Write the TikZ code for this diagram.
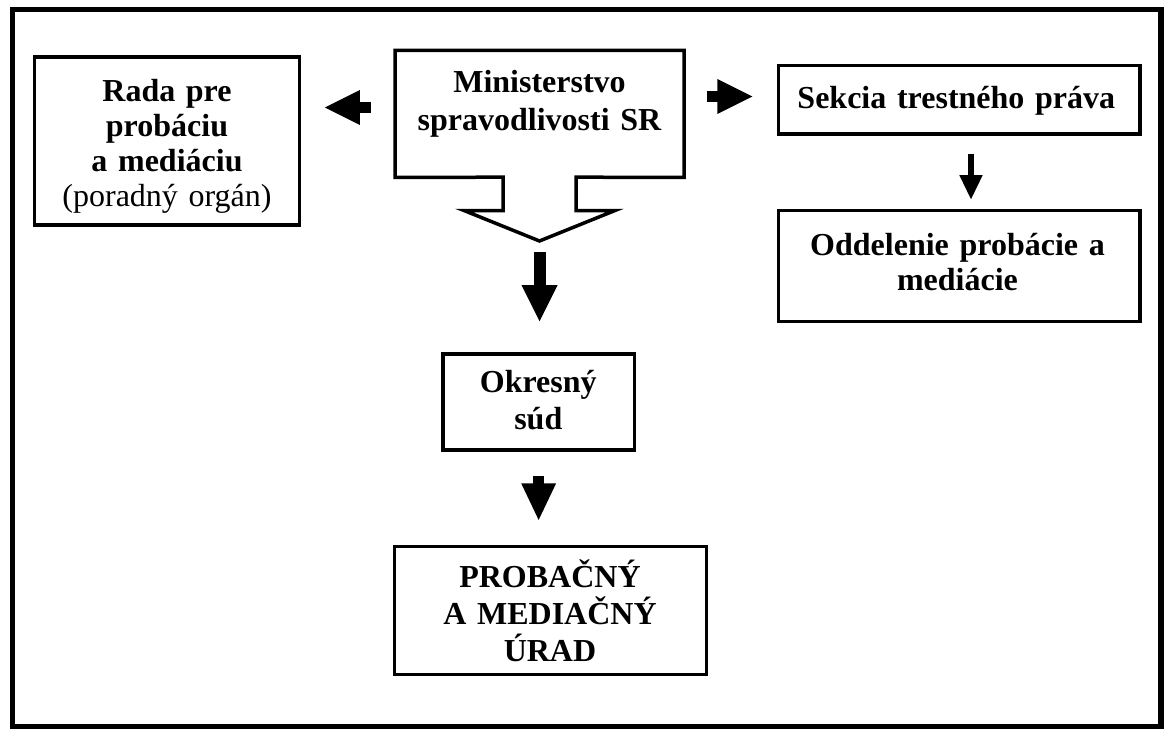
\documentclass[tikz,border=0pt]{standalone}
\usepackage{fontspec}
\setmainfont{Liberation Serif}
\usetikzlibrary{arrows.meta}
\tikzset{
  box/.style={draw, line width=3.5bp, inner sep=0pt, line join=miter},
  txt/.style={anchor=base, inner sep=0pt, text width=450bp, align=center,
    font=\fontsize{32bp}{#1}\selectfont\bfseries},
  blockarrow/.style n args={4}{line width=#1,
    -{Triangle[length=#2, width=#3, line width=0pt]},
    postaction={draw, -, shorten >=#4}},
}
\begin{document}
\begin{tikzpicture}[x=1bp, y=-1bp]
\useasboundingbox (0,0) rectangle (1164,729);
% outer frame
\draw[line width=5.5bp] (12.5,9.3) rectangle (1161,726.5);

% boxes
\node[box, minimum width=265.4bp, minimum height=167.8bp] (rada) at (167,141.1) {};
\node[inner sep=0pt, minimum width=288.5bp, minimum height=126.7bp] (min) at (539.55,113.85) {};
\node[box, minimum width=361.5bp, minimum height=68.1bp] (sek) at (959.05,99.75) {};
\node[box, minimum width=361.5bp, minimum height=111.2bp] (odd) at (959.05,266.1) {};
\node[box, minimum width=191.7bp, minimum height=96.2bp] (okr) at (538.65,401.9) {};
\node[box, minimum width=312bp, minimum height=128bp] (prob) at (550.7,610.7) {};

% callout outline of the ministry
\coordinate (minTip) at (539.5,241);
\draw[line width=3.5bp, line join=miter]
  (min.north west) -- (min.north east) -- (min.south east)
  -- (576.2,177.2) -- (576.2,210.5) -- (615,210.5) -- (minTip)
  -- (464,210.5) -- (503,210.5) -- (503,177.2) -- (min.south west) -- cycle;

% texts
\node[txt=35bp] (radaT) at (167,101.7) {Rada pre\\ probáciu\\ a mediáciu\\ \mdseries(poradný orgán)};
\node[txt=37.4bp] (minT) at (539.5,92.7) {Ministerstvo\\ spravodlivosti SR};
\node[txt=36bp] (sekT) at (956.3,108.3) {Sekcia trestného práva};
\node[txt=35bp] (oddT) at (957.5,255) {Oddelenie probácie a\\ mediácie};
\node[txt=36.7bp] (okrT) at (538.3,392.7) {Okresný\\ súd};
\node[txt=37bp] (probT) at (550,587.3) {PROBAČNÝ\\ A MEDIAČNÝ\\ ÚRAD};

% block arrows
\draw[blockarrow={11bp}{35bp}{35bp}{54.3bp}, shorten <=24.3bp, shorten >=23.3bp]
  (min.west |- 0,107.5) -- (rada.east |- 0,107.5);
\draw[blockarrow={11bp}{35bp}{35bp}{55.3bp}, shorten <=23.2bp, shorten >=24.3bp]
  (min.east |- 0,96.5) -- (sek.west |- 0,96.5);
\draw[blockarrow={12bp}{36bp}{36bp}{62.8bp}, shorten <=11bp, shorten >=30.8bp]
  (minTip) -- (minTip |- okr.north);
\draw[blockarrow={10.6bp}{36.7bp}{35bp}{57.7bp}, shorten <=24bp, shorten >=25bp]
  (okr.south) -- (okr.south |- prob.north);
\draw[blockarrow={6.7bp}{24bp}{23.3bp}{30.5bp}, shorten <=18.9bp, shorten >=9.5bp]
  (sek.south -| 971,0) -- (odd.north -| 971,0);
\end{tikzpicture}
\end{document}
